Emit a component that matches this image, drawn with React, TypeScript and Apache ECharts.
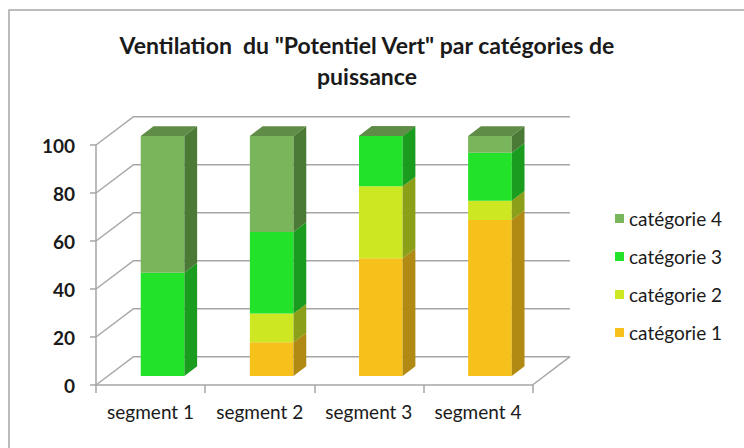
import React, { useEffect, useRef } from "react";
import * as echarts from "echarts";

const categories = ["segment 1", "segment 2", "segment 3", "segment 4"];
const seriesNames = ["catégorie 1", "catégorie 2", "catégorie 3", "catégorie 4"];
const cat1 = [0, 14, 49, 65];
const cat2 = [0, 12, 30, 8];
const cat3 = [43, 34, 21, 20];
const cat4 = [57, 40, 0, 7];
const yTicks = [0, 20, 40, 60, 80, 100];
const titleText = 'Ventilation  du "Potentiel Vert" par catégories de\npuissance';

const FRONT = ["#f5c11a", "#cde823", "#22e32a", "#79b55b"];
const SIDE = ["#b08a12", "#8c9f18", "#1a9c1e", "#4b7a36"];
const TOP = "#5f8c46";
const GRID_COLOR = "#a6a6a6";
const DEPTH = [37.5, -28.3];
const F0 = 0.32;
const F1 = 0.66;
const BAR_W = 0.4;
const FONT = "Lato, Carlito, 'Open Sans', sans-serif";

export default function App() {
  const ref = useRef<HTMLDivElement>(null);
  useEffect(() => {
    document.body.style.margin = "0";
    if (!ref.current) return;
    const chart = echarts.init(ref.current, undefined, { renderer: "svg" });
    const values = [cat1, cat2, cat3, cat4];
    const totals = categories.map((_, i) => values.reduce((s, arr) => s + arr[i], 0));

    const barSeries = values.map((arr, k) => {
      const data = arr.map((v, i) => {
        let base = 0;
        for (let j = 0; j < k; j++) base += values[j][i];
        const top = base + v;
        const isTop = top >= totals[i] - 1e-9 ? 1 : 0;
        return [i, base, top, isTop];
      });
      return {
        type: "custom",
        name: seriesNames[k],
        itemStyle: { color: FRONT[k] },
        encode: { x: 0, y: [1, 2] },
        data,
        silent: true,
        renderItem: (params: any, api: any) => {
          const i = api.value(0);
          const base = api.value(1);
          const top = api.value(2);
          const isTop = api.value(3);
          const pb = api.coord([i, base]);
          const pt = api.coord([i, top]);
          const bw = api.size([1, 0])[0] * BAR_W;
          const ox0 = DEPTH[0] * F0, oy0 = DEPTH[1] * F0;
          const dx = DEPTH[0] * (F1 - F0), dy = DEPTH[1] * (F1 - F0);
          const xl = pb[0] - bw / 2 + ox0;
          const xr = pb[0] + bw / 2 + ox0;
          const yb = pb[1] + oy0;
          const yt = pt[1] + oy0;
          const children: any[] = [];
          if (top > base) {
            children.push({
              type: "polygon",
              shape: { points: [[xl, yt], [xr, yt], [xr, yb], [xl, yb]] },
              style: { fill: FRONT[k] },
            });
            children.push({
              type: "polygon",
              shape: { points: [[xr, yt], [xr + dx, yt + dy], [xr + dx, yb + dy], [xr, yb]] },
              style: { fill: SIDE[k] },
            });
          }
          if (isTop) {
            children.push({
              type: "polygon",
              shape: { points: [[xl, yt], [xl + dx, yt + dy], [xr + dx, yt + dy], [xr, yt]] },
              style: { fill: TOP },
            });
          }
          return { type: "group", children };
        },
      };
    });

    const wallSeries = {
      type: "custom",
      name: "walls",
      silent: true,
      z: 1,
      encode: { x: 0, y: 1 },
      data: yTicks.map((v) => [0, v]),
      renderItem: (params: any, api: any) => {
        const v = api.value(1);
        const p = api.coord([0, v]);
        const band = api.size([1, 0])[0];
        const left = p[0] - band / 2;
        const right = left + band * categories.length;
        const y = p[1];
        const children: any[] = [
          {
            type: "polyline",
            shape: {
              points: [
                [left, y],
                [left + DEPTH[0], y + DEPTH[1]],
                [right + DEPTH[0], y + DEPTH[1]],
              ],
            },
            style: { stroke: GRID_COLOR, lineWidth: 1.5, fill: null },
          },
        ];
        if (v === 0) {
          children.push({
            type: "line",
            shape: { x1: right, y1: y, x2: right + DEPTH[0], y2: y + DEPTH[1] },
            style: { stroke: GRID_COLOR, lineWidth: 1.5 },
          });
        }
        return { type: "group", children };
      },
    };

    chart.setOption({
      animation: false,
      backgroundColor: "#ffffff",
      textStyle: { fontFamily: FONT },
      title: {
        text: titleText,
        left: 362,
        top: 24,
        textAlign: "center",
        textStyle: {
          fontFamily: FONT,
          fontSize: 23,
          fontWeight: "bold",
          color: "#1a1a1a",
          lineHeight: 31,
        },
      },
      graphic: [
        {
          type: "rect",
          shape: { x: 9, y: 10, width: 780, height: 480 },
          style: { fill: null, stroke: "#a6a6a6", lineWidth: 1.5 },
          z: 0,
        },
      ],
      legend: {
        orient: "vertical",
        left: 610,
        top: 204,
        itemWidth: 9,
        itemHeight: 9,
        itemGap: 19,
        icon: "rect",
        data: [seriesNames[3], seriesNames[2], seriesNames[1], seriesNames[0]],
        textStyle: { fontFamily: FONT, fontSize: 19, color: "#1a1a1a" },
      },
      grid: { left: 96, right: 211.5, top: 145, bottom: 63 },
      xAxis: {
        type: "category",
        data: categories,
        axisLine: { show: true, lineStyle: { color: GRID_COLOR, width: 1.5 } },
        axisTick: { show: true, length: 8, alignWithLabel: false, lineStyle: { color: GRID_COLOR, width: 1.5 } },
        axisLabel: { fontFamily: FONT, fontSize: 19, color: "#1a1a1a", margin: 17, interval: 0 },
        splitLine: { show: false },
      },
      yAxis: {
        type: "value",
        min: 0,
        max: 100,
        interval: 20,
        axisLine: { show: true, lineStyle: { color: GRID_COLOR, width: 1.5 } },
        axisTick: { show: true, length: 6, lineStyle: { color: GRID_COLOR, width: 1.5 } },
        axisLabel: { fontFamily: FONT, fontSize: 19, fontWeight: "bold", color: "#1a1a1a", margin: 21 },
        splitLine: { show: false },
      },
      series: [wallSeries, ...barSeries],
    });
    return () => chart.dispose();
  }, []);
  return <div ref={ref} style={{ width: 744, height: 448 }} />;
}
